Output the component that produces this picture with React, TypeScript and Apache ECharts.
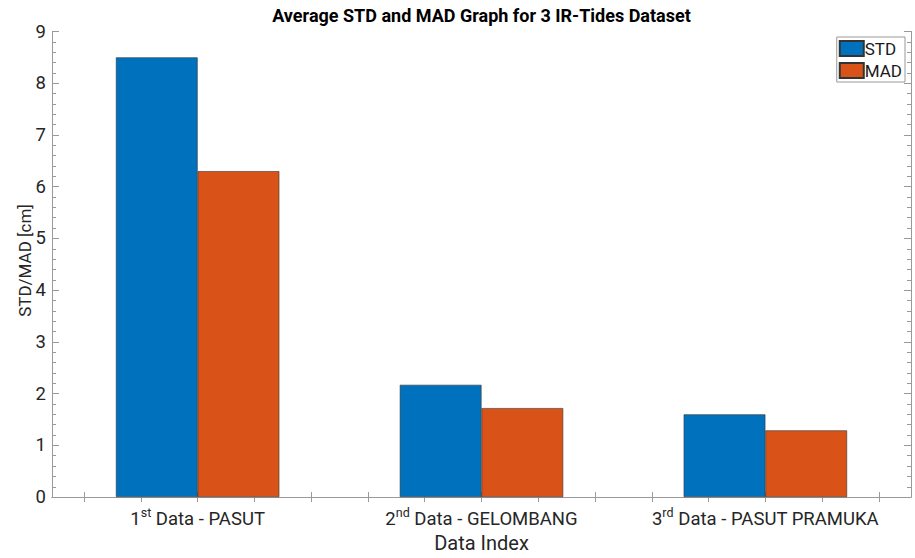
import React, { useEffect, useRef } from "react";
import * as echarts from "echarts";

const categories = ["1st Data - PASUT", "2nd Data - GELOMBANG", "3rd Data - PASUT PRAMUKA"];
const labelParts = [
  ["1", "st", " Data - PASUT"],
  ["2", "nd", " Data - GELOMBANG"],
  ["3", "rd", " Data - PASUT PRAMUKA"],
];
const xPositions = [1, 2, 3];
const stdValues = [8.5, 2.17, 1.6];
const madValues = [6.3, 1.72, 1.29];
const xMinorTicks = [0.6, 0.8, 1, 1.2, 1.4, 1.6, 1.8, 2, 2.2, 2.4, 2.6, 2.8, 3, 3.2, 3.4];

const FONT = "Roboto";
const AXIS_COLOR = "#9a9a9a";
const TEXT_COLOR = "#262626";

export default function App() {
  const ref = useRef<HTMLDivElement>(null);
  useEffect(() => {
    if (!ref.current) return;
    const chart = echarts.init(ref.current, null, { renderer: "svg" });
    const xCommon = {
      type: "value" as const,
      min: 0.487,
      max: 3.513,
      splitLine: { show: false },
      axisLine: { show: true, lineStyle: { color: AXIS_COLOR, width: 1 } },
      axisTick: {
        show: true,
        inside: true,
        length: 5,
        customValues: xMinorTicks,
        lineStyle: { color: AXIS_COLOR },
      },
    };
    const yCommon = {
      type: "value" as const,
      min: 0,
      max: 9,
      interval: 1,
      splitLine: { show: false },
      axisLine: { show: true, lineStyle: { color: AXIS_COLOR, width: 1 } },
      axisTick: { show: true, inside: true, length: 7, lineStyle: { color: AXIS_COLOR } },
      minorTick: { show: true, splitNumber: 5, length: 4, lineStyle: { color: AXIS_COLOR } },
    };
    chart.setOption({
      animation: false,
      textStyle: { fontFamily: FONT },
      grid: { left: 52, right: 4, top: 31.5, bottom: 56.5, containLabel: false },
      xAxis: [
        {
          ...xCommon,
          position: "bottom",
          name: "Data Index",
          nameLocation: "middle",
          nameGap: 31,
          nameTextStyle: { fontSize: 20, color: TEXT_COLOR, fontFamily: FONT },
          axisLabel: {
            show: true,
            customValues: xPositions,
            margin: 9,
            formatter: (v: number) => {
              const i = xPositions.indexOf(Math.round(v));
              if (i < 0) return "";
              const p = labelParts[i];
              return `{n|${p[0]}}{s|${p[1]}}{n|${p[2]}}`;
            },
            rich: {
              n: { fontSize: 18.5, lineHeight: 22, color: TEXT_COLOR, fontFamily: FONT, verticalAlign: "bottom" },
              s: { fontSize: 12.5, lineHeight: 12, color: TEXT_COLOR, fontFamily: FONT, verticalAlign: "top" },
            },
          },
        },
        {
          ...xCommon,
          position: "top",
          axisLabel: { show: false },
        },
      ],
      yAxis: [
        {
          ...yCommon,
          position: "left",
          axisLabel: { show: true, fontSize: 18.5, color: TEXT_COLOR, margin: 6, fontFamily: FONT },
        },
        {
          ...yCommon,
          position: "right",
          axisLabel: { show: false },
        },
      ],
      legend: {
        orient: "vertical",
        right: 10,
        top: 37,
        data: ["STD", "MAD"],
        icon: "rect",
        itemWidth: 24,
        itemHeight: 15,
        itemGap: 5,
        padding: [3, 3, 3, 2],
        borderColor: "#999",
        borderWidth: 1,
        backgroundColor: "#fff",
        textStyle: { fontSize: 17, color: "#1a1a1a", fontFamily: FONT, padding: [0, 0, 0, -4] },
      },
      graphic: [
        {
          type: "text",
          x: 481.5,
          y: 15,
          style: {
            text: "Average STD and MAD Graph for 3 IR-Tides Dataset",
            fontSize: 18,
            fontWeight: "bold",
            fontFamily: FONT,
            fill: "#000",
            align: "center",
            verticalAlign: "middle",
          },
        },
        {
          type: "text",
          x: 24.5,
          y: 260.5,
          rotation: Math.PI / 2,
          style: {
            text: "STD/MAD [cm]",
            fontSize: 17,
            fontFamily: FONT,
            fill: TEXT_COLOR,
            align: "center",
            verticalAlign: "middle",
          },
        },
      ],
      series: [
        {
          name: "STD",
          type: "bar",
          xAxisIndex: 0,
          yAxisIndex: 0,
          barWidth: 81.7,
          barGap: "0%",
          data: xPositions.map((x, i) => [x, stdValues[i]]),
          itemStyle: { color: "#0072BD", borderColor: "#333", borderWidth: 0.6 },
        },
        {
          name: "MAD",
          type: "bar",
          xAxisIndex: 0,
          yAxisIndex: 0,
          barWidth: 81.7,
          barGap: "0%",
          data: xPositions.map((x, i) => [x, madValues[i]]),
          itemStyle: { color: "#D95319", borderColor: "#333", borderWidth: 0.6 },
        },
      ],
    });
    return () => chart.dispose();
  }, []);
  return (
    <div
      ref={ref}
      style={{ position: "fixed", left: 0, top: 0, width: 915, height: 558, background: "#fff" }}
      data-categories={categories.join("|")}
    />
  );
}
